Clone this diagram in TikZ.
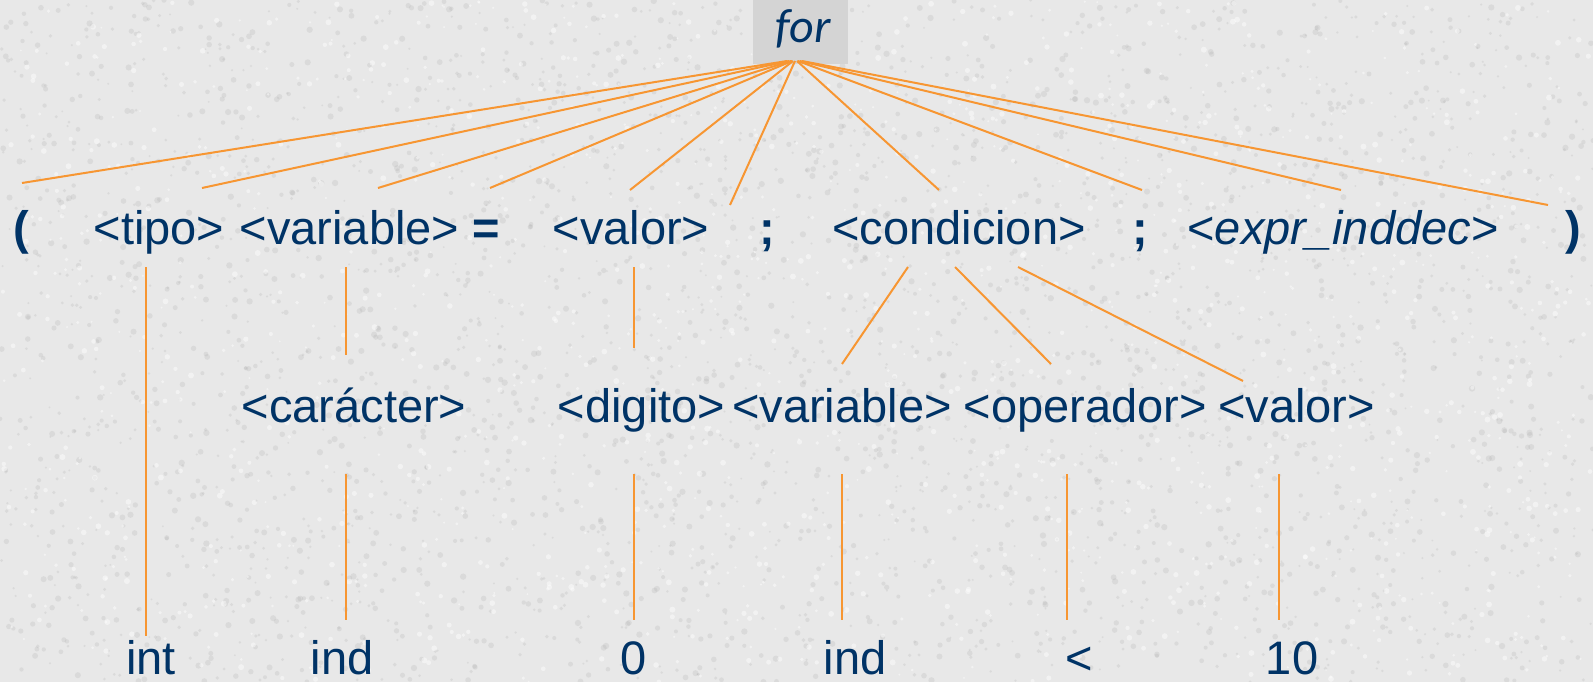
\documentclass[tikz,border=0pt]{standalone}
\usepackage{fontspec}
\setmainfont{Liberation Sans}
\newfontfamily\forfont{Carlito}
\definecolor{navy}{RGB}{0,51,102}
\definecolor{branch}{RGB}{247,150,50}
\definecolor{slate}{RGB}{232,232,232}
\definecolor{grain}{RGB}{170,170,170}
\definecolor{boxgray}{RGB}{212,212,212}
\begin{document}
\begin{tikzpicture}[x=1pt,y=-1pt,
  lbl/.style={anchor=base,inner sep=0pt,text=navy,font=\fontsize{47}{56}\selectfont},
  sym/.style={lbl,font=\fontsize{47}{56}\selectfont\bfseries},
  leaf/.style={lbl,text depth=0pt},
  edge/.style={draw=branch,line width=2pt}]
% granite-like backdrop
\fill[slate] (0,0) rectangle (1593,682);
\useasboundingbox (0,0) rectangle (1593,682);
\pgfmathsetseed{7}
\foreach \i in {1,...,3500}{
  \fill[grain,opacity=0.22] ({rnd*1593},{rnd*682}) circle ({1+rnd*2.2});
}
\foreach \i in {1,...,1500}{
  \fill[white,opacity=0.45] ({rnd*1593},{rnd*682}) circle ({1+rnd*2});
}
% root
\fill[boxgray] (753,0) rectangle (848,64);
\node[anchor=base,inner sep=0pt,text=navy,font=\fontsize{48}{56}\forfont\itshape] (for) at (803,43) {for};

% first level
\node[sym] (lp)   at (21.5,244) {(};
\node[lbl] (tipo) at (159,244) {<tipo>};
\node[lbl] (var)  at (349.5,244) {<variable>};
\node[sym] (eq)   at (486.5,244) {=};
\node[lbl] (val)  at (631,244) {<valor>};
\node[sym] (sc1)  at (767,244) {;};
\node[lbl] (cond) at (959,244) {<condicion>};
\node[sym] (sc2)  at (1140,244) {;};
\node[lbl] (expr) at (1343,244) {<\textit{expr\_inddec}>};
\node[sym] (rp)   at (1573,244) {)};

% second level
\node[lbl] (car)  at (354,422) {<carácter>};
\node[lbl] (dig)  at (641.5,422) {<digito>};
\node[lbl] (cvar) at (842,422) {<variable>};
\node[lbl] (op)   at (1085.5,422) {<operador>};
\node[lbl] (cval) at (1296.5,422) {<valor>};

% leaves
\node[leaf] (int)  at (151,674) {int};
\node[leaf] (ind1) at (342,674) {ind};
\node[leaf] (zero) at (634,674) {0};
\node[leaf] (ind2) at (855,674) {ind};
\node[leaf] (lt)   at (1079,674) {<};
\node[leaf] (ten)  at (1292,674) {10};

% branch end points below the root
\coordinate (r-lp)   at (787,61);
\coordinate (r-tipo) at (789,61);
\coordinate (r-var)  at (791,61);
\coordinate (r-eq)   at (792,61);
\coordinate (r-val)  at (793,61);
\coordinate (r-sc1)  at (795,61);
\coordinate (r-cond) at (797,61);
\coordinate (r-sc2)  at (798,61);
\coordinate (r-expr) at (800,61);
\coordinate (r-rp)   at (802,61);
% branch end points above the first level
\coordinate (t-lp)   at (22,183);
\coordinate (t-tipo) at (202,188);
\coordinate (t-var)  at (378,188);
\coordinate (t-eq)   at (490,188);
\coordinate (t-val)  at (630,190);
\coordinate (t-sc1)  at (730,205);
\coordinate (t-cond) at (939,190);
\coordinate (t-sc2)  at (1142,190);
\coordinate (t-expr) at (1341,190);
\coordinate (t-rp)   at (1548,205);

\foreach \n in {lp,tipo,var,eq,val,sc1,cond,sc2,expr,rp}
  \draw[edge] (r-\n) -- (t-\n);

% first level to second level
\coordinate (b-tipo) at (146,267);
\coordinate (b-var)  at (346,267);
\coordinate (b-val)  at (634,267);
\coordinate (b-c1)   at (908,267);
\coordinate (b-c2)   at (955,267);
\coordinate (b-c3)   at (1018,267);
\coordinate (t-int)  at (146,636);
\coordinate (t-car)  at (346,355);
\coordinate (t-dig)  at (634,348);
\coordinate (t-cvar) at (842,364);
\coordinate (t-op)   at (1051,364);
\coordinate (t-cval) at (1243,381);
\draw[edge] (b-tipo) -- (t-int);
\draw[edge] (b-var) -- (t-car);
\draw[edge] (b-val) -- (t-dig);
\draw[edge] (b-c1) -- (t-cvar);
\draw[edge] (b-c2) -- (t-op);
\draw[edge] (b-c3) -- (t-cval);

% second level to leaves
\foreach \n/\x in {car/346,dig/634,cvar/842,op/1067,cval/1279}{
  \coordinate (u-\n) at (\x,474);
  \coordinate (d-\n) at (\x,620);
  \draw[edge] (u-\n) -- (d-\n);
}
\end{tikzpicture}
\end{document}
